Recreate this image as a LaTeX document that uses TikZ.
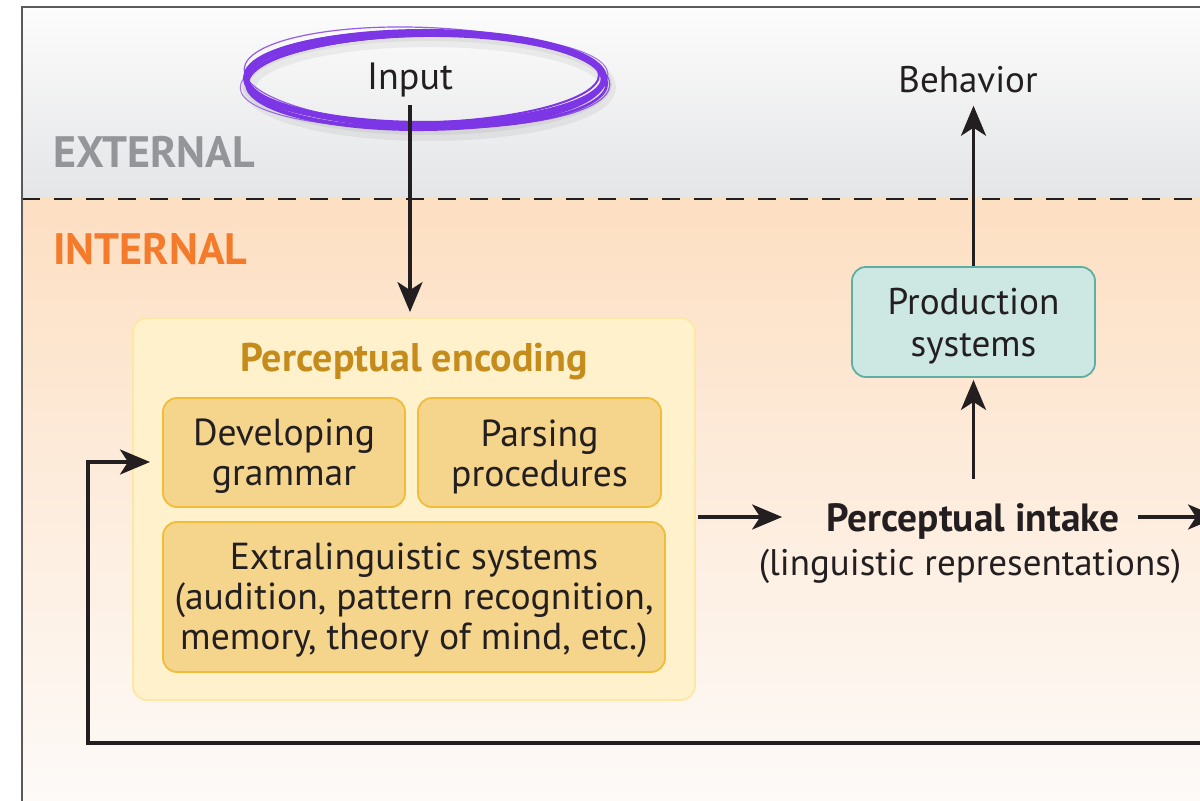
\documentclass[tikz,border=0pt]{standalone}
\usepackage{fontspec}
\setmainfont{PT Sans}
\usetikzlibrary{arrows.meta,calc}
\definecolor{extTop}{HTML}{FCFCFC}
\definecolor{extBot}{HTML}{E4E5E7}
\definecolor{intTop}{HTML}{FDDFC2}
\definecolor{intBot}{HTML}{FDFAF8}
\definecolor{peFill}{HTML}{FEF1CB}
\definecolor{peDraw}{HTML}{FCE8A4}
\definecolor{inFill}{HTML}{F5D48B}
\definecolor{inDraw}{HTML}{F0BC3A}
\definecolor{prFill}{HTML}{CDE8E3}
\definecolor{prDraw}{HTML}{5FAEA2}
\definecolor{titleCol}{HTML}{C58B1B}
\definecolor{extCol}{HTML}{939598}
\definecolor{intCol}{HTML}{F47B2B}
\definecolor{purp}{HTML}{7C36E6}
\definecolor{ink}{HTML}{231F20}
\definecolor{frameCol}{HTML}{5A5A5C}
\newcommand\fsz[2]{\fontsize{#1}{#2}\selectfont}
\begin{document}
\begin{tikzpicture}[x=0.5pt,y=-0.5pt,
  arr/.style={draw=ink, line width=1.8pt,
    -{Stealth[length=15pt,width=12.5pt,inset=4pt]}},
  inbox/.style={rounded corners=7pt, draw=inDraw, fill=inFill, line width=0.9pt,
    inner sep=0pt},
  prbox/.style={rounded corners=7pt, draw=prDraw, fill=prFill, line width=0.9pt,
    inner sep=0pt},
  pebox/.style={rounded corners=7pt, draw=peDraw, fill=peFill, line width=0.9pt,
    inner sep=0pt},
  boxtxt/.style={align=center, inner sep=0pt, text=ink, font=\fsz{18.8}{20}},
  lbl/.style={text=ink, font=\fsz{18.5}{21}, inner sep=3pt},
  zone/.style={font=\bfseries\fsz{22}{24}, inner sep=0pt, anchor=base west},
  stroke/.style={draw=purp, line cap=round}
]
\useasboundingbox (0,0) rectangle (1200,801);
\fill[white] (0,0) rectangle (1200,801);
% zones
\shade[top color=extTop, bottom color=extBot] (22,7) rectangle (1200,199);
\shade[top color=intTop, bottom color=intBot] (22,199) rectangle (1200,801);
\draw[line width=1.1pt, ink, dash pattern=on 9pt off 7pt] (22,199) -- (1200,199);
\draw[line width=1.3pt, frameCol] (22,801) -- (22,7) -- (1200,7);
\node[zone, extCol] (ext) at (53,168) {EXTERNAL};
\node[zone, intCol] (int) at (53,265) {INTERNAL};

% perceptual encoding
\node[pebox, minimum width=281pt, minimum height=191pt] (pe) at (414,509) {};
\node[text=titleCol, font=\bfseries\fsz{20}{22}, inner sep=0pt] (pet) at (414,362) {Perceptual encoding};
\node[inbox, minimum width=121pt, minimum height=54.5pt] (dg) at (284,452.5) {};
\node[boxtxt] (dgT) at ($(dg)+(0,4)$) {Developing\\grammar};
\node[inbox, minimum width=121.5pt, minimum height=54.5pt] (pp) at (539.5,452.5) {};
\node[boxtxt] (ppT) at ($(pp)+(0,4)$) {Parsing\\procedures};
\node[inbox, minimum width=251pt, minimum height=75pt] (ex) at (414,597) {};
\node[boxtxt] (exT) at ($(ex)+(0,3)$) {Extralinguistic systems\\(audition, pattern recognition,\\memory, theory of mind, etc.)};

% production
\node[prbox, minimum width=121.5pt, minimum height=55pt] (prod) at (973.5,322) {};
\node[boxtxt, font=\fsz{18.6}{20.8}] (prodT) at ($(prod)+(0,4)$) {Production\\systems};

% labels
\node[lbl, font=\fsz{19}{21}] (input) at (410,80) {Input};
\node[lbl] (behav) at (968,80) {Behavior};
\node[lbl, font=\bfseries\fsz{19.7}{21}] (intake) at (973,521) {Perceptual intake};
\node[lbl] (intake2) at (970,566) {(linguistic representations)};

% hand-drawn ellipse around Input
\coordinate (ec) at (425,78);
\draw[black, opacity=0.05, line width=7pt] ($(ec)+(4,9)$) ellipse [x radius=180, y radius=47];
\draw[black, opacity=0.05, line width=4pt] ($(ec)+(2,6)$) ellipse [x radius=181, y radius=47];
\draw[stroke, line width=3pt] (ec) ellipse [x radius=179, y radius=46];
\draw[stroke, line width=1.3pt, rotate around={-1.2:(ec)}] ($(ec)+(1,2)$) ellipse [x radius=181, y radius=48];
\draw[stroke, line width=1pt, rotate around={1.4:(ec)}] ($(ec)+(-2,1)$) ellipse [x radius=176, y radius=43.5];
\draw[stroke, line width=0.6pt, opacity=0.8, rotate around={-2.5:(ec)}] ($(ec)+(2,-1)$) ellipse [x radius=183, y radius=49.5];
\draw[stroke, line width=2pt, rotate around={0.6:(ec)}] ($(ec)+(0,4)$) ellipse [x radius=178, y radius=47];
\draw[stroke, line width=0.5pt, opacity=0.7, rotate around={2.2:(ec)}] ($(ec)+(-1,3)$) ellipse [x radius=184, y radius=46];

% connectors
\draw[arr, shorten <=1pt, shorten >=2.5pt] (input.south) -- (input.south |- pe.north);
\draw[arr] (prod.north) -- ($(prod.north |- behav.south)+(0,6)$);
\draw[arr, shorten <=9pt, shorten >=1pt] (intake.north -| prod.south) -- (prod.south);
\draw[arr, shorten <=1pt, shorten >=19pt] (pe.east |- 0,517) -- (intake.west |- 0,517);
\coordinate (outR) at (1218,517);
\draw[arr, shorten <=6pt] (intake.east |- 0,517) -- (outR);
\coordinate (fbR) at (1240,743);
\coordinate (fbL) at (88,743);
\coordinate (fbIn) at (150,462);
\draw[arr, line join=miter] (fbR) -- (fbL) |- (fbIn);
\end{tikzpicture}
\end{document}
